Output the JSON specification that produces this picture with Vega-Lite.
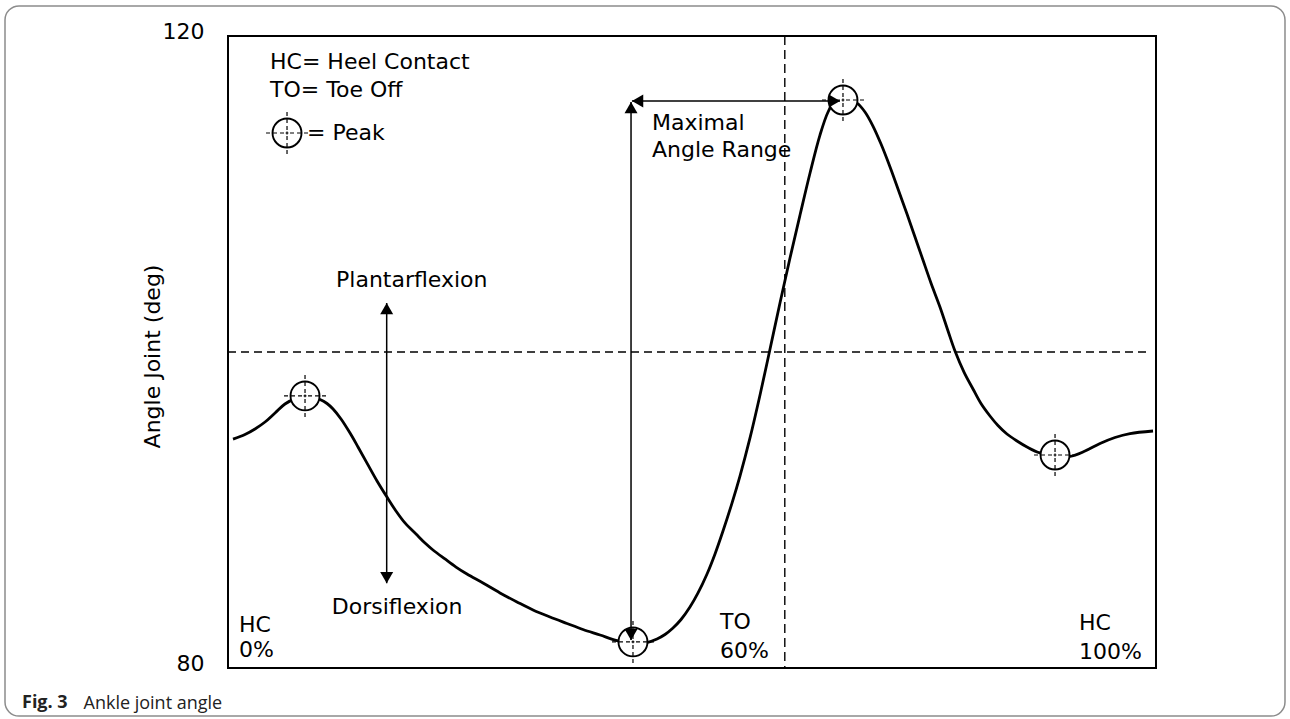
{
  "$schema": "https://vega.github.io/schema/vega-lite/v6.json",
  "autosize": {"type": "none"},
  "width": 928,
  "height": 632,
  "padding": {"left": 228, "top": 36, "right": 134, "bottom": 51},
  "background": "white",
  "config": {
    "view": {"stroke": "#000", "strokeWidth": 2},
    "font": "DejaVu Sans"
  },
  "title": {
    "text": "Fig. 3",
    "orient": "bottom",
    "anchor": "start",
    "frame": "group",
    "dx": -206,
    "dy": -23,
    "offset": 0,
    "font": "Open Sans",
    "fontSize": 18,
    "fontWeight": "bold",
    "color": "#222"
  },
  "datasets": {
    "curve": [
      {"pct": 0.54, "angle": 94.49},
      {"pct": 1.83, "angle": 94.78},
      {"pct": 2.91, "angle": 95.13},
      {"pct": 3.99, "angle": 95.57},
      {"pct": 5.07, "angle": 96.14},
      {"pct": 6.14, "angle": 96.71},
      {"pct": 7.22, "angle": 97.03},
      {"pct": 8.3, "angle": 97.15},
      {"pct": 9.16, "angle": 97.12},
      {"pct": 9.91, "angle": 96.99},
      {"pct": 10.67, "angle": 96.74},
      {"pct": 11.32, "angle": 96.39},
      {"pct": 12.18, "angle": 95.76},
      {"pct": 13.15, "angle": 94.87},
      {"pct": 14.01, "angle": 93.99},
      {"pct": 14.98, "angle": 92.97},
      {"pct": 16.06, "angle": 91.84},
      {"pct": 17.13, "angle": 90.82},
      {"pct": 18.1, "angle": 89.94},
      {"pct": 19.07, "angle": 89.18},
      {"pct": 20.26, "angle": 88.48},
      {"pct": 21.23, "angle": 87.91},
      {"pct": 22.09, "angle": 87.47},
      {"pct": 23.38, "angle": 86.9},
      {"pct": 24.57, "angle": 86.39},
      {"pct": 25.75, "angle": 85.95},
      {"pct": 27.48, "angle": 85.38},
      {"pct": 29.31, "angle": 84.75},
      {"pct": 31.14, "angle": 84.18},
      {"pct": 32.87, "angle": 83.67},
      {"pct": 34.7, "angle": 83.23},
      {"pct": 36.53, "angle": 82.82},
      {"pct": 38.25, "angle": 82.44},
      {"pct": 40.09, "angle": 82.09},
      {"pct": 41.92, "angle": 81.73},
      {"pct": 43.64, "angle": 81.55},
      {"pct": 44.94, "angle": 81.58},
      {"pct": 46.23, "angle": 81.84},
      {"pct": 47.09, "angle": 82.12},
      {"pct": 47.95, "angle": 82.53},
      {"pct": 48.82, "angle": 83.07},
      {"pct": 49.78, "angle": 83.86},
      {"pct": 50.65, "angle": 84.75},
      {"pct": 51.62, "angle": 85.95},
      {"pct": 52.48, "angle": 87.22},
      {"pct": 53.34, "angle": 88.67},
      {"pct": 54.31, "angle": 90.44},
      {"pct": 55.17, "angle": 92.15},
      {"pct": 56.25, "angle": 94.56},
      {"pct": 57.33, "angle": 97.28},
      {"pct": 58.41, "angle": 100.19},
      {"pct": 59.48, "angle": 103.1},
      {"pct": 60.56, "angle": 105.95},
      {"pct": 61.64, "angle": 108.67},
      {"pct": 62.72, "angle": 111.33},
      {"pct": 63.79, "angle": 113.73},
      {"pct": 64.66, "angle": 115.19},
      {"pct": 65.41, "angle": 115.89},
      {"pct": 66.27, "angle": 116.08},
      {"pct": 67.03, "angle": 115.98},
      {"pct": 67.78, "angle": 115.76},
      {"pct": 68.64, "angle": 115.19},
      {"pct": 69.5, "angle": 114.3},
      {"pct": 70.37, "angle": 113.16},
      {"pct": 71.34, "angle": 111.71},
      {"pct": 72.2, "angle": 110.32},
      {"pct": 73.17, "angle": 108.73},
      {"pct": 74.03, "angle": 107.28},
      {"pct": 74.89, "angle": 105.82},
      {"pct": 75.75, "angle": 104.37},
      {"pct": 76.72, "angle": 102.85},
      {"pct": 77.59, "angle": 101.33},
      {"pct": 78.34, "angle": 100.06},
      {"pct": 79.31, "angle": 98.73},
      {"pct": 80.28, "angle": 97.66},
      {"pct": 81.14, "angle": 96.74},
      {"pct": 82.11, "angle": 95.95},
      {"pct": 82.97, "angle": 95.35},
      {"pct": 83.94, "angle": 94.81},
      {"pct": 85.02, "angle": 94.37},
      {"pct": 86.1, "angle": 93.99},
      {"pct": 87.5, "angle": 93.61},
      {"pct": 89.12, "angle": 93.45},
      {"pct": 90.73, "angle": 93.39},
      {"pct": 92.35, "angle": 93.73},
      {"pct": 93.97, "angle": 94.21},
      {"pct": 95.58, "angle": 94.59},
      {"pct": 97.2, "angle": 94.84},
      {"pct": 99.68, "angle": 95.0}
    ],
    "peaks": [
      {"pct": 8.3, "angle": 97.22},
      {"pct": 43.64, "angle": 81.65},
      {"pct": 66.27, "angle": 115.95},
      {"pct": 89.12, "angle": 93.48},
      {"pct": 6.36, "angle": 113.86}
    ],
    "hline": [
      {"pct": 0, "pct2": 99.2, "angle": 100}
    ],
    "vline": [
      {"pct": 60}
    ],
    "arrows": [
      {"pct": 17.1, "angle": 85.36, "pct2": 17.1, "angle2": 103.1},
      {"pct": 43.43, "angle": 81.77, "pct2": 43.43, "angle2": 115.82},
      {"pct": 43.53, "angle": 115.89, "pct2": 65.95, "angle2": 115.89}
    ],
    "heads": [
      {"pct": 17.1, "angle": 102.75, "dir": "up"},
      {"pct": 17.1, "angle": 85.72, "dir": "down"},
      {"pct": 43.43, "angle": 115.47, "dir": "up"},
      {"pct": 43.43, "angle": 82.12, "dir": "down"},
      {"pct": 44.14, "angle": 115.89, "dir": "left"},
      {"pct": 65.35, "angle": 115.89, "dir": "right"}
    ],
    "labels": [
      {"pct": 4.53, "angle": 118.35, "text": "HC= Heel Contact"},
      {"pct": 4.53, "angle": 116.58, "text": "TO= Toe Off"},
      {"pct": 8.51, "angle": 113.86, "text": "= Peak"},
      {"pct": 11.64, "angle": 104.56, "text": "Plantarflexion"},
      {"pct": 11.19, "angle": 83.84, "text": "Dorsiflexion"},
      {"pct": 45.69, "angle": 114.49, "text": "Maximal"},
      {"pct": 45.69, "angle": 112.78, "text": "Angle Range"},
      {"pct": 1.19, "angle": 82.72, "text": "HC"},
      {"pct": 1.19, "angle": 81.14, "text": "0%"},
      {"pct": 53.02, "angle": 82.91, "text": "TO"},
      {"pct": 53.02, "angle": 81.08, "text": "60%"},
      {"pct": 91.7, "angle": 82.85, "text": "HC"},
      {"pct": 91.7, "angle": 81.01, "text": "100%"}
    ]
  },
  "layer": [
    {
      "data": {"values": [{"k": 1}]},
      "mark": {"type": "rect", "filled": false, "stroke": "#8c8c8c", "strokeWidth": 1.5, "cornerRadius": 14},
      "encoding": {
        "x": {"datum": -24.03, "type": "quantitative"},
        "x2": {"datum": 113.9},
        "y": {"datum": 121.9, "type": "quantitative"},
        "y2": {"datum": 76.96}
      }
    },
    {
      "data": {"name": "hline"},
      "mark": {"type": "rule", "stroke": "#000", "strokeWidth": 1.4, "strokeDash": [8, 5]},
      "encoding": {
        "x": {"field": "pct", "type": "quantitative"},
        "x2": {"field": "pct2"},
        "y": {"field": "angle", "type": "quantitative"}
      }
    },
    {
      "data": {"name": "vline"},
      "mark": {"type": "rule", "stroke": "#000", "strokeWidth": 1.4, "strokeDash": [9, 5]},
      "encoding": {
        "x": {"field": "pct", "type": "quantitative"}
      }
    },
    {
      "data": {"name": "curve"},
      "mark": {"type": "line", "interpolate": "catmull-rom", "stroke": "#000", "strokeWidth": 2.8},
      "encoding": {
        "x": {
          "field": "pct",
          "type": "quantitative",
          "scale": {"domain": [0, 100], "nice": false, "zero": false},
          "axis": {
            "labels": false,
            "ticks": false,
            "domain": false,
            "grid": false,
            "title": "Ankle joint angle",
            "titleX": -145,
            "titleY": 35,
            "titleAlign": "left",
            "titleAnchor": null,
            "titleBaseline": "middle",
            "titleFont": "Open Sans",
            "titleFontSize": 18,
            "titleFontWeight": "normal",
            "titleColor": "#222"
          }
        },
        "y": {
          "field": "angle",
          "type": "quantitative",
          "scale": {"domain": [80, 120], "nice": false, "zero": false},
          "axis": {
            "values": [80, 120],
            "ticks": false,
            "tickSize": 0,
            "domain": false,
            "grid": false,
            "labelPadding": 24,
            "labelOffset": -5,
            "labelFont": "DejaVu Sans",
            "labelFontSize": 22,
            "labelColor": "#000",
            "title": "Angle Joint (deg)",
            "titleFont": "DejaVu Sans",
            "titleFontSize": 22,
            "titleFontWeight": "normal",
            "titleColor": "#000",
            "titleX": -76,
            "titleY": 320,
            "titleAngle": 270,
            "titleAlign": "center",
            "titleBaseline": "middle"
          }
        }
      }
    },
    {
      "data": {"name": "peaks"},
      "mark": {"type": "point", "shape": "circle", "size": 840, "filled": true, "fill": "#fff", "fillOpacity": 1, "stroke": "#000", "strokeWidth": 1.9, "opacity": 1},
      "encoding": {
        "x": {"field": "pct", "type": "quantitative"},
        "y": {"field": "angle", "type": "quantitative"}
      }
    },
    {
      "data": {"name": "peaks"},
      "mark": {
        "type": "point",
        "shape": "M-1.05,0H-0.85M-0.7,0H-0.5M-0.35,0H-0.15M-0.07,0H0.07M0.15,0H0.35M0.5,0H0.7M0.85,0H1.05M0,-1.05V-0.85M0,-0.7V-0.5M0,-0.35V-0.15M0,-0.07V0.07M0,0.15V0.35M0,0.5V0.7M0,0.85V1.05",
        "size": 1600,
        "filled": false,
        "stroke": "#000",
        "strokeWidth": 1.2,
        "opacity": 1
      },
      "encoding": {
        "x": {"field": "pct", "type": "quantitative"},
        "y": {"field": "angle", "type": "quantitative"}
      }
    },
    {
      "data": {"name": "arrows"},
      "mark": {"type": "rule", "stroke": "#000", "strokeWidth": 1.5},
      "encoding": {
        "x": {"field": "pct", "type": "quantitative"},
        "y": {"field": "angle", "type": "quantitative"},
        "x2": {"field": "pct2"},
        "y2": {"field": "angle2"}
      }
    },
    {
      "data": {"name": "heads"},
      "mark": {"type": "point", "filled": true, "fill": "#000", "strokeWidth": 0, "size": 169, "opacity": 1},
      "encoding": {
        "x": {"field": "pct", "type": "quantitative"},
        "y": {"field": "angle", "type": "quantitative"},
        "shape": {
          "field": "dir",
          "type": "nominal",
          "scale": {"domain": ["up", "down", "left", "right"], "range": ["triangle-up", "triangle-down", "triangle-left", "triangle-right"]},
          "legend": null
        }
      }
    },
    {
      "data": {"name": "labels"},
      "mark": {"type": "text", "align": "left", "baseline": "middle", "font": "DejaVu Sans", "fontSize": 22, "fill": "#000"},
      "encoding": {
        "x": {"field": "pct", "type": "quantitative"},
        "y": {"field": "angle", "type": "quantitative"},
        "text": {"field": "text", "type": "nominal"}
      }
    }
  ]
}
